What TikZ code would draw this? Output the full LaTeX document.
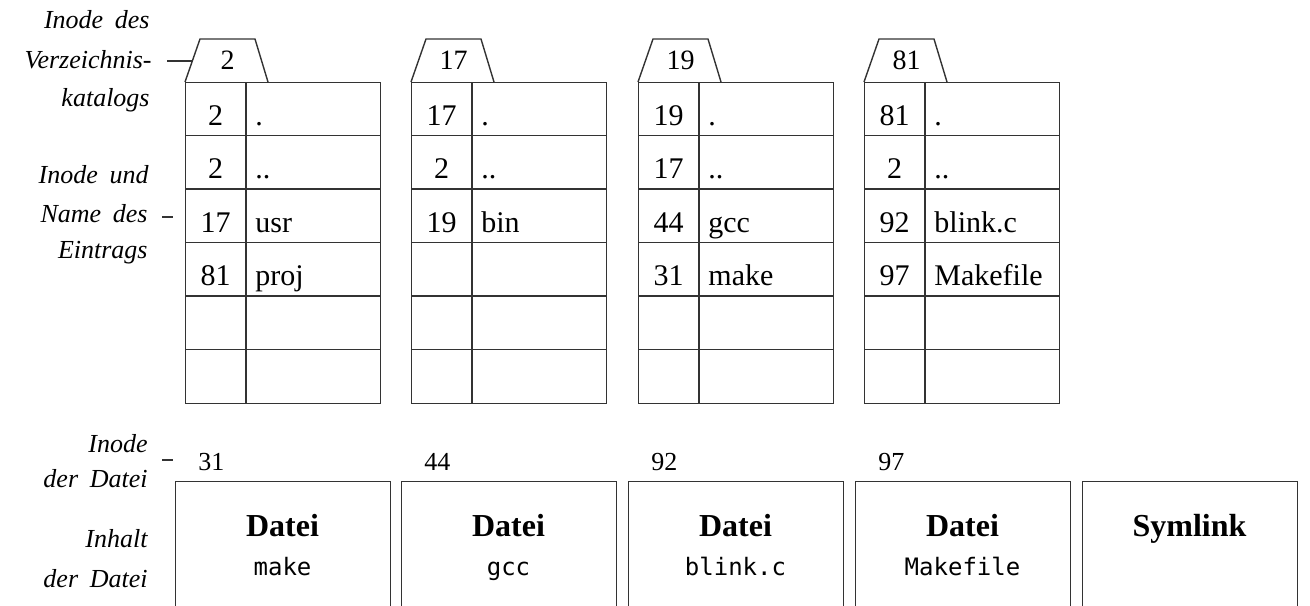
\documentclass[tikz,border=0pt]{standalone}
\usepackage{fontspec}
\setmainfont{Liberation Serif}
\setmonofont{DejaVu Sans Mono}
\tikzset{
  frame/.style={draw=black!80, line width=0.7pt},
  sidetext/.style={font=\fontsize{13}{16}\selectfont\itshape,
                   execute at begin node={\spaceskip=0.45em\relax},
                   anchor=base east, inner sep=0pt},
  cellnum/.style={font=\fontsize{15}{18}\selectfont, anchor=base, inner sep=0pt},
  cellname/.style={font=\fontsize{15}{18}\selectfont, anchor=base west, inner sep=0pt},
  tabnum/.style={font=\fontsize{14}{17}\selectfont, anchor=base, inner sep=0pt},
  inodenum/.style={font=\fontsize{13}{16}\selectfont, anchor=base west, inner sep=0pt},
  filebox/.style={frame, minimum width=107.5pt, minimum height=80pt, inner sep=0pt},
  kindtext/.style={font=\fontsize{16}{19}\selectfont\bfseries, anchor=base, inner sep=0pt},
  nametext/.style={font=\fontsize{12}{15}\ttfamily, anchor=base, inner sep=0pt},
}
\begin{document}
\begin{tikzpicture}[x=0.5pt, y=-0.5pt]
\clip (0,0) rectangle (1310,605);

% ---- labels on the left ----
\node[sidetext] (l1a) at (150,28)  {Inode des};
\node[sidetext] (l1b) at (152,68)  {Verzeichnis-};
\node[sidetext] (l1c) at (150,106) {katalogs};
\node[sidetext] (l2a) at (149,183) {Inode und};
\node[sidetext] (l2b) at (148,222) {Name des};
\node[sidetext] (l2c) at (148,258) {Eintrags};
\node[sidetext] (l3a) at (148,452) {Inode};
\node[sidetext] (l3b) at (148,487) {der Datei};
\node[sidetext] (l4a) at (148,547) {Inhalt};
\node[sidetext] (l4b) at (148,587) {der Datei};

% ---- directory catalogues ----
\foreach \i/\left/\self/\aa/\ab/\ba/\bb/\ca/\cb/\da/\db in {
  1/185/2/2/./2/../17/usr/81/proj,
  2/411/17/17/./2/../19/bin//,
  3/638/19/19/./17/../44/gcc/31/make,
  4/864/81/81/./2/../92/blink.c/97/Makefile}{
  % tab with the inode of the catalogue
  \draw[frame] (\left,82) -- (\left+15,39) -- (\left+70,39) -- (\left+83,82);
  \coordinate (tab\i) at (\left+7.5,61);
  \node[tabnum] (tn\i) at (\left+42.5,69) {\self};
  % table body
  \node[frame, minimum width=97.5pt, minimum height=160.5pt, inner sep=0pt,
        anchor=north west] (dir\i) at (\left,82) {};
  \draw[frame] (\left+61,82) -- (\left+61,403);
  \foreach \r in {1,...,5}
    \draw[frame] (\left,82+53.5*\r) -- (\left+195,82+53.5*\r);
  % entries
  \node[cellnum]  (n\i a) at (\left+30.5,125)   {\aa};
  \node[cellname] (e\i a) at (\left+70,125)     {\ab};
  \node[cellnum]  (n\i b) at (\left+30.5,178.5) {\ba};
  \node[cellname] (e\i b) at (\left+70,178.5)   {\bb};
  \node[cellnum]  (n\i c) at (\left+30.5,232)   {\ca};
  \node[cellname] (e\i c) at (\left+70,232)     {\cb};
  \node[cellnum]  (n\i d) at (\left+30.5,285.5) {\da};
  \node[cellname] (e\i d) at (\left+70,285.5)   {\db};
}

% pointer marks of the labels
\coordinate (m1) at (167,61);
\draw[frame] (m1) -- (tab1);
\coordinate (m2a) at (162,217);
\coordinate (m2b) at (173,217);
\draw[frame] (m2a) -- (m2b);
\coordinate (m3a) at (162,460);
\coordinate (m3b) at (173,460);
\draw[frame] (m3a) -- (m3b);

% ---- file contents ----
\foreach \i/\left/\num/\kind/\fname in {
  1/175/31/Datei/make,
  2/401/44/Datei/gcc,
  3/628/92/Datei/blink.c,
  4/855/97/Datei/Makefile,
  5/1082//Symlink/}{
  \node[filebox, anchor=north west] (f\i) at (\left,481) {};
  \node[inodenum] (fi\i) at (\left+23,470) {\num};
  \node[kindtext] (fk\i) at (\left+107.5,536) {\kind};
  \node[nametext] (fn\i) at (\left+107.5,575) {\fname};
}
\end{tikzpicture}
\end{document}
